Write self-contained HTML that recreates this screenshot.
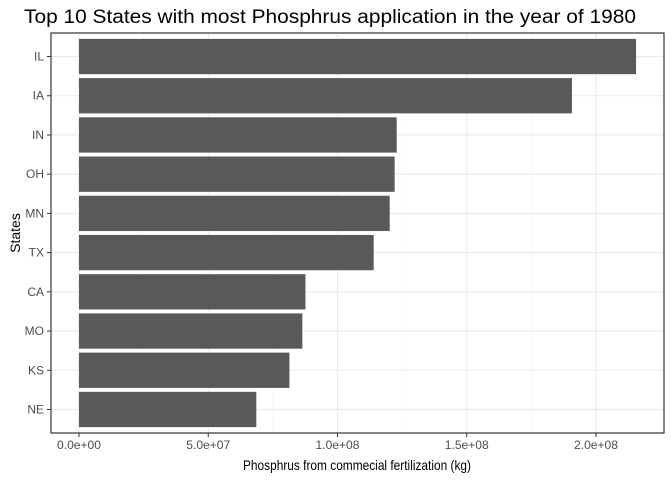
<!DOCTYPE html>
<html><head><meta charset="utf-8"><style>
body{margin:0;background:#fff;font-family:"Liberation Sans",Arial,sans-serif;}
svg text{font-family:"Liberation Sans",Arial,sans-serif;}
</style></head><body>
<svg id="chart" width="672" height="480" xmlns="http://www.w3.org/2000/svg">
<rect width="672" height="480" fill="#fff"/>
<text x="24" y="23" font-size="19" textLength="612" lengthAdjust="spacingAndGlyphs" fill="#000">Top 10 States with most Phosphrus application in the year of 1980</text>
<g id="grid"></g><g id="bars"></g><g id="axes"></g>
<rect x="51" y="33" width="613" height="400" fill="none" stroke="#333" stroke-width="1.2"/>
<text x="357" y="470" font-size="14" textLength="228" lengthAdjust="spacingAndGlyphs" text-anchor="middle" fill="#000">Phosphrus from commecial fertilization (kg)</text>
<text transform="translate(20,233) rotate(-90)" font-size="14" text-anchor="middle" fill="#000">States</text>
</svg>
<script>
const states = ["IL","IA","IN","OH","MN","TX","CA","MO","KS","NE"];
const values = [2.155e8,1.907e8,1.229e8,1.221e8,1.202e8,1.140e8,0.876e8,0.864e8,0.814e8,0.686e8];
const xTicks = [0,5e7,1e8,1.5e8,2e8];
const xTickLabels = ["0.0e+00","5.0e+07","1.0e+08","1.5e+08","2.0e+08"];
const NS="http://www.w3.org/2000/svg";
const pTop=33,pBottom=433,pLeft=51,pRight=664;
const xs=v=>79+v*(517/2e8);
const step=(pBottom-pTop)/10.2;
const ys=i=>pTop+(0.6+i)*step;
function mk(t,a,p){const e=document.createElementNS(NS,t);for(const k in a)e.setAttribute(k,a[k]);p.appendChild(e);return e;}
const grid=document.getElementById('grid'),bars=document.getElementById('bars'),axes=document.getElementById('axes');
for(let i=0;i<xTicks.length;i++){
  const gx=xs(xTicks[i]);
  const g=mk('line',{x1:gx,x2:gx,y1:pTop,y2:pBottom,stroke:'#ebebeb','stroke-width':1.1},grid);
  
  
  const mx=xs(xTicks[i]+2.5e7);
  if(mx<pRight){const m=mk('line',{x1:mx,x2:mx,y1:pTop,y2:pBottom,stroke:'#f3f3f3','stroke-width':0.6},grid);
  
  }
  const tk=mk('line',{x1:gx,x2:gx,y1:pBottom,y2:pBottom+4,stroke:'#333'},axes);
  
  
  const t=mk('text',{x:gx,y:pBottom+16,'font-size':12,textLength:44,lengthAdjust:'spacingAndGlyphs','text-anchor':'middle',fill:'#4d4d4d'},axes);
  t.textContent=xTickLabels[i];
  
  
}
for(let i=0;i<states.length;i++){
  const cy=ys(i);
  const g=mk('line',{x1:pLeft,x2:pRight,y1:cy,y2:cy,stroke:'#ebebeb','stroke-width':1.1},grid);
  
  
  const b=mk('rect',{x:xs(0),y:cy-step*0.45,width:xs(values[i])-xs(0),height:step*0.9,fill:'#595959'},bars);
  
  
  const tk=mk('line',{x1:pLeft-4,x2:pLeft,y1:cy,y2:cy,stroke:'#333'},axes);
  
  
  const t=mk('text',{x:pLeft-7,y:cy+4,'font-size':12,'text-anchor':'end',fill:'#4d4d4d'},axes);
  t.textContent=states[i];
  
  
}
</script>
</body></html>
